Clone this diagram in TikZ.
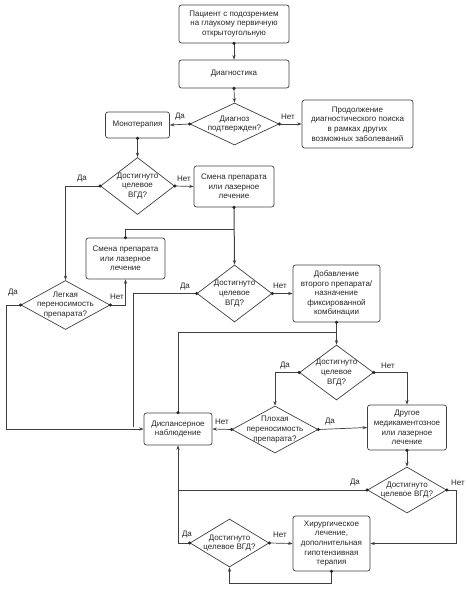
\documentclass[tikz,border=0pt]{standalone}
\usepackage{fontspec}
\setmainfont{Liberation Sans}
\usetikzlibrary{shapes.geometric,arrows.meta}
\begin{document}
\begin{tikzpicture}[x=1pt,y=-1pt,
 every node/.style={font=\fontsize{8}{9.6}\selectfont, text=black!85},
 box/.style={draw=black!75, line width=0.7pt, rounded corners=2.5pt, align=center, inner sep=1pt},
 dia/.style={diamond, draw=black!75, line width=0.7pt, inner sep=0pt},
 dl/.style={align=center, inner sep=0pt},
 ln/.style={draw=black!75, line width=0.7pt},
 arr/.style={ln, -{Stealth[length=4.5pt,width=3.2pt]}},
 lab/.style={inner sep=0pt}
]
\useasboundingbox (0,0) rectangle (466,599);
% boxes
\node[box, minimum width=110pt, minimum height=38pt] (b1) at (234,24) {Пациент с подозрением\\на глаукому первичную\\открытоугольную};
\node[box, minimum width=110pt, minimum height=28pt] (b2) at (234,74) {Диагностика};
\node[box, minimum width=64pt, minimum height=26pt] (mono) at (137.5,125) {Монотерапия};
\node[box, minimum width=111pt, minimum height=48pt] (prod) at (357.5,124) {Продолжение\\диагностического поиска\\в рамках других\\возможных заболеваний};
\node[box, minimum width=80pt, minimum height=41pt] (sm1) at (234,186.5) {Смена препарата\\или лазерное\\лечение};
\node[box, minimum width=79pt, minimum height=41pt] (sm2) at (125.5,258.5) {Смена препарата\\или лазерное\\лечение};
\node[box, minimum width=87pt, minimum height=57pt] (dob) at (336.5,293.5) {Добавление\\второго препарата/\\назначение\\фиксированной\\комбинации};
\node[box, minimum width=68pt, minimum height=32pt] (disp) at (178,429) {Диспансерное\\наблюдение};
\node[box, minimum width=79pt, minimum height=45pt] (drug) at (407,427.5) {Другое\\медикаментозное\\или лазерное\\лечение};
\node[box, minimum width=77pt, minimum height=55pt] (hir) at (331.5,543.5) {Хирургическое\\лечение,\\дополнительная\\гипотензивная\\терапия};
% diamonds
\node[dia, minimum width=89pt, minimum height=42pt, label={[dl]center:Диагноз\\подтвержден?}] (d1) at (234.5,124) {};
\node[dia, minimum width=74pt, minimum height=57pt, label={[dl]center:Достигнуто\\целевое\\ВГД?}] (d2) at (137.5,186) {};
\node[dia, minimum width=75pt, minimum height=57pt, label={[dl]center:Достигнуто\\целевое\\ВГД?}] (d3) at (234.5,293.5) {};
\node[dia, minimum width=89pt, minimum height=49pt, label={[dl]center:Легкая\\переносимость\\препарата?}] (dL) at (65.5,305) {};
\node[dia, minimum width=74pt, minimum height=55pt, label={[dl]center:Достигнуто\\целевое\\ВГД?}] (d4) at (336.5,372.5) {};
\node[dia, minimum width=86pt, minimum height=47pt, label={[dl]center:Плохая\\переносимость\\препарата?}] (dP) at (275,429.5) {};
\node[dia, minimum width=79pt, minimum height=46pt, label={[dl]center:Достигнуто\\целевое ВГД?}] (d5) at (407,490) {};
\node[dia, minimum width=79pt, minimum height=48pt, label={[dl]center:Достигнуто\\целевое ВГД?}] (d6) at (229.5,543) {};
% junction coordinates
\coordinate (j1) at (234,229);
\coordinate (j2) at (133,427);
\coordinate (j3) at (179,490);
% connectors
\draw[arr] (b1.south) -- (b2.north);
\draw[arr] (b2.south) -- (d1.north);
\draw[arr] (d1.west) -- (mono.east);
\draw[arr] (d1.east) -- (prod.west);
\draw[arr] (mono.south) -- (d2.north);
\draw[arr] (d2.west) -| (dL.north);
\draw[arr] (d2.east) -- (sm1.west);
\draw[arr, line width=1pt] (sm1.south) -- (d3.north);
\draw[ln] (sm2.north) |- (j1);
\draw[arr] (dL.east) -| (sm2.south);
\draw[arr] (dL.west) -- ++(-14,0) |- (disp.west);
\draw[ln] (d3.west) -| (j2);
\draw[arr] (d3.east) -- (dob.west);
\draw[ln] (dob.south) -- ++(0,10) -| (disp.north);
\draw[arr] (dob.south) -- (d4.north);
\draw[arr] (d4.west) -| (dP.north);
\draw[arr] (d4.east) -| (drug.north);
\draw[arr] (dP.west) -- (disp.east);
\draw[arr] (dP.east) -- (drug.west);
\draw[arr] (drug.south) -- (d5.north);
\draw[ln] (d5.west) -- (j3);
\draw[arr] (d5.east) -- ++(9,0) |- (hir.east);
\draw[arr] (d6.east) -- (hir.west);
\draw[arr] (hir.south) -- ++(0,11.5) -| (d6.south);
\draw[arr] (d6.west) -| (disp.south);
% dots
\foreach \p in {b1.south,b2.south,d1.west,d1.east,mono.south,d2.west,d2.east,sm1.south,sm2.north,dL.east,dL.west,d3.west,d3.east,dob.south,disp.north,d4.west,d4.east,dP.west,dP.east,drug.south,d5.west,d5.east,d6.west,d6.east,hir.south}
  \fill[black!85] (\p) circle (1.7pt);
% labels
\node[lab] (l1) at (180,117) {Да};
\node[lab] (l2) at (288,117) {Нет};
\node[lab] (l3) at (82,179) {Да};
\node[lab] (l4) at (184,179) {Нет};
\node[lab] (l5) at (117,297) {Нет};
\node[lab] (l6) at (13,293) {Да};
\node[lab] (l7) at (185,287) {Да};
\node[lab] (l8) at (280,286) {Нет};
\node[lab] (l9) at (285,366) {Да};
\node[lab] (l10) at (388,366) {Нет};
\node[lab] (l11) at (222,422) {Нет};
\node[lab] (l12) at (330,422) {Да};
\node[lab] (l13) at (355,483) {Да};
\node[lab] (l14) at (458,483) {Нет};
\node[lab] (l15) at (187,535) {Да};
\node[lab] (l16) at (280,535) {Нет};
\end{tikzpicture}
\end{document}
